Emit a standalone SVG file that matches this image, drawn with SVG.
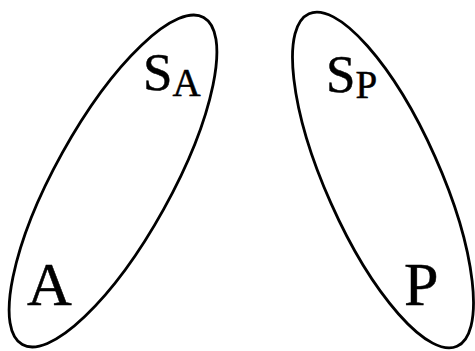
<svg xmlns="http://www.w3.org/2000/svg" width="475" height="351" viewBox="0 0 475 351">
<style>
.e{fill:none;stroke:#000;stroke-width:2.8}
text{font-family:'Liberation Serif','DejaVu Serif',serif;fill:#000;stroke:#000;stroke-width:0.5}
.big{font-size:62px}
.s{font-size:53px}
.sub{font-size:39px}
</style>
<rect width="475" height="351" fill="#fff"/>
<g id="left">
<ellipse class="e" cx="113" cy="181" rx="187" ry="58" transform="rotate(-61 113 181)"/>
<text class="s" x="143" y="90">S<tspan class="sub" dy="6">A</tspan></text>
<text class="big" x="27" y="305">A</text>
</g>
<g id="right">
<ellipse class="e" cx="383" cy="180" rx="182" ry="57" transform="rotate(66 383 180)"/>
<text class="s" x="326" y="92">S<tspan class="sub" dy="6">P</tspan></text>
<text class="big" x="404" y="305">P</text>
</g>
</svg>
